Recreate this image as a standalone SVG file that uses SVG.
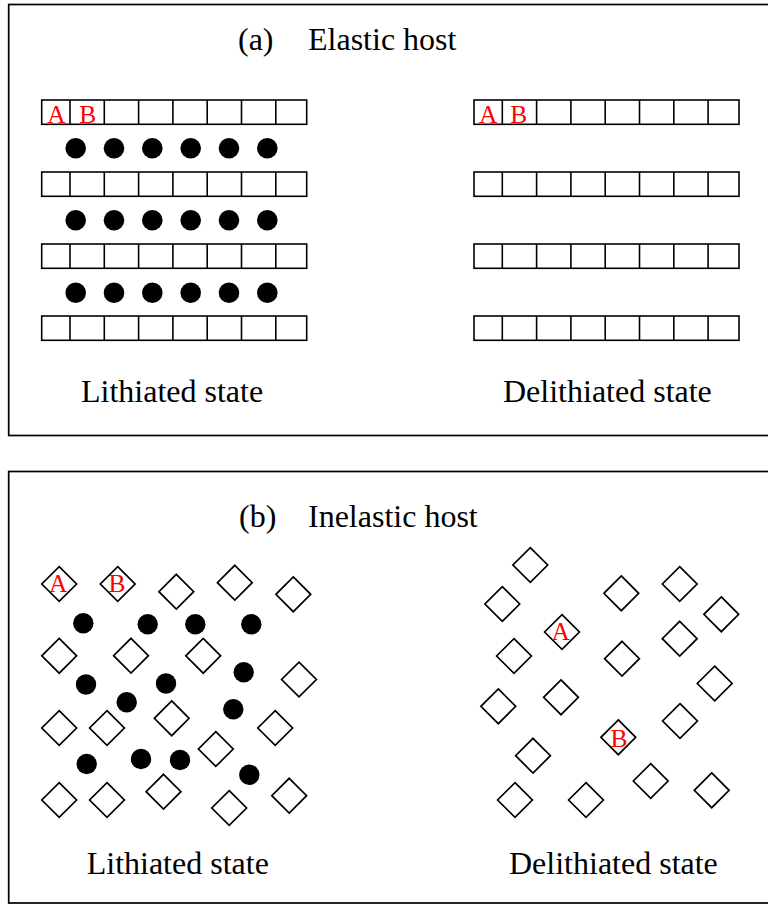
<svg xmlns="http://www.w3.org/2000/svg" xmlns:xlink="http://www.w3.org/1999/xlink" width="768" height="904" viewBox="0 0 768 904">
<style>
.frame{fill:none;stroke:#000;stroke-width:1.7}
.cell{fill:none;stroke:#000;stroke-width:1.6}
.dm{fill:none;stroke:#000;stroke-width:1.7;stroke-linejoin:miter}
.dot{fill:#000}
.t{font-family:"Liberation Serif","Times New Roman",serif;font-size:32px;fill:#000}
.lab{font-family:"Liberation Serif","Times New Roman",serif;font-size:25.5px;fill:#ff0000;text-anchor:middle}
</style>
<defs>
<g id="row">
<rect class="cell" x="0" y="0" width="265" height="24.3"/>
<path class="cell" d="M28.3,0V24.3M62.6,0V24.3M96.9,0V24.3M131.2,0V24.3M165.5,0V24.3M199.8,0V24.3M234.1,0V24.3"/>
</g>
<path id="dm" class="dm" d="M0,-17.4L17.4,0L0,17.4L-17.4,0Z"/>
</defs>
<rect width="768" height="904" fill="#fff"/>

<g id="panel-a">
<rect class="frame" x="8.7" y="4.5" width="780" height="431"/>
<text class="t" y="49.5"><tspan x="238">(a)</tspan><tspan x="308">Elastic host</tspan></text>
<g id="a-lithiated">
<use xlink:href="#row" x="41.7" y="100"/>
<use xlink:href="#row" x="41.7" y="172"/>
<use xlink:href="#row" x="41.7" y="244"/>
<use xlink:href="#row" x="41.7" y="316"/>
<text class="lab" x="56.5" y="122.7">A</text>
<text class="lab" x="87.7" y="122.7">B</text>
<g class="dot">
<circle cx="75.7" cy="148.3" r="10.3"/><circle cx="114" cy="148.3" r="10.3"/><circle cx="152.3" cy="148.3" r="10.3"/><circle cx="190.7" cy="148.3" r="10.3"/><circle cx="229" cy="148.3" r="10.3"/><circle cx="267.3" cy="148.3" r="10.3"/>
<circle cx="75.7" cy="220.3" r="10.3"/><circle cx="114" cy="220.3" r="10.3"/><circle cx="152.3" cy="220.3" r="10.3"/><circle cx="190.7" cy="220.3" r="10.3"/><circle cx="229" cy="220.3" r="10.3"/><circle cx="267.3" cy="220.3" r="10.3"/>
<circle cx="75.7" cy="292.7" r="10.3"/><circle cx="114" cy="292.7" r="10.3"/><circle cx="152.3" cy="292.7" r="10.3"/><circle cx="190.7" cy="292.7" r="10.3"/><circle cx="229" cy="292.7" r="10.3"/><circle cx="267.3" cy="292.7" r="10.3"/>
</g>
<text class="t" x="81" y="401.7">Lithiated state</text>
</g>
<g id="a-delithiated">
<use xlink:href="#row" x="474" y="100"/>
<use xlink:href="#row" x="474" y="172"/>
<use xlink:href="#row" x="474" y="244"/>
<use xlink:href="#row" x="474" y="316"/>
<text class="lab" x="488.2" y="122.7">A</text>
<text class="lab" x="518.7" y="122.7">B</text>
<text class="t" x="503" y="401.7">Delithiated state</text>
</g>
</g>

<g id="panel-b">
<rect class="frame" x="8.7" y="471.5" width="780" height="431.5"/>
<text class="t" y="526.7"><tspan x="239">(b)</tspan><tspan x="308">Inelastic host</tspan></text>
<g id="b-lithiated">
<use xlink:href="#dm" x="59.2" y="584"/>
<use xlink:href="#dm" x="117.7" y="584"/>
<use xlink:href="#dm" x="176.3" y="591.7"/>
<use xlink:href="#dm" x="234.8" y="582.7"/>
<use xlink:href="#dm" x="293.3" y="594.3"/>
<use xlink:href="#dm" x="59.2" y="655.8"/>
<use xlink:href="#dm" x="131" y="655.7"/>
<use xlink:href="#dm" x="203.2" y="655.8"/>
<use xlink:href="#dm" x="299" y="679.5"/>
<use xlink:href="#dm" x="59.2" y="728"/>
<use xlink:href="#dm" x="107" y="728"/>
<use xlink:href="#dm" x="171.7" y="718.3"/>
<use xlink:href="#dm" x="275.2" y="728"/>
<use xlink:href="#dm" x="215.8" y="749"/>
<use xlink:href="#dm" x="59.2" y="800"/>
<use xlink:href="#dm" x="107" y="800"/>
<use xlink:href="#dm" x="163.5" y="791.7"/>
<use xlink:href="#dm" x="229.2" y="808"/>
<use xlink:href="#dm" x="289.2" y="795.7"/>
<text class="lab" x="58.3" y="592">A</text>
<text class="lab" x="117" y="592">B</text>
<g class="dot">
<circle cx="83.3" cy="623.3" r="10.2"/><circle cx="147.7" cy="624.3" r="10.2"/><circle cx="195.3" cy="624.3" r="10.2"/><circle cx="251.3" cy="624.3" r="10.2"/>
<circle cx="243.7" cy="672.3" r="10.2"/><circle cx="86" cy="684.5" r="10.2"/><circle cx="166" cy="683.5" r="10.2"/>
<circle cx="126.7" cy="702.3" r="10.2"/><circle cx="233.3" cy="709.3" r="10.2"/>
<circle cx="86.7" cy="764" r="10.2"/><circle cx="141" cy="759" r="10.2"/><circle cx="180" cy="760" r="10.2"/><circle cx="249.3" cy="774.7" r="10.2"/>
</g>
<text class="t" x="86.7" y="874.3">Lithiated state</text>
</g>
<g id="b-delithiated">
<use xlink:href="#dm" x="530.3" y="565"/>
<use xlink:href="#dm" x="502.3" y="604"/>
<use xlink:href="#dm" x="562" y="632"/>
<use xlink:href="#dm" x="621.3" y="593.3"/>
<use xlink:href="#dm" x="679.7" y="584"/>
<use xlink:href="#dm" x="721.3" y="614.3"/>
<use xlink:href="#dm" x="679.7" y="638.7"/>
<use xlink:href="#dm" x="514" y="656"/>
<use xlink:href="#dm" x="622" y="658.7"/>
<use xlink:href="#dm" x="714.7" y="683.5"/>
<use xlink:href="#dm" x="498.3" y="706.3"/>
<use xlink:href="#dm" x="561" y="697.3"/>
<use xlink:href="#dm" x="680" y="721"/>
<use xlink:href="#dm" x="618.3" y="737.3"/>
<use xlink:href="#dm" x="533" y="755.7"/>
<use xlink:href="#dm" x="650.7" y="781"/>
<use xlink:href="#dm" x="711.7" y="790.3"/>
<use xlink:href="#dm" x="515" y="800"/>
<use xlink:href="#dm" x="586" y="800"/>
<text class="lab" x="560.7" y="639.5">A</text>
<text class="lab" x="619" y="746.7">B</text>
<text class="t" x="509" y="874.3">Delithiated state</text>
</g>
</g>
</svg>
